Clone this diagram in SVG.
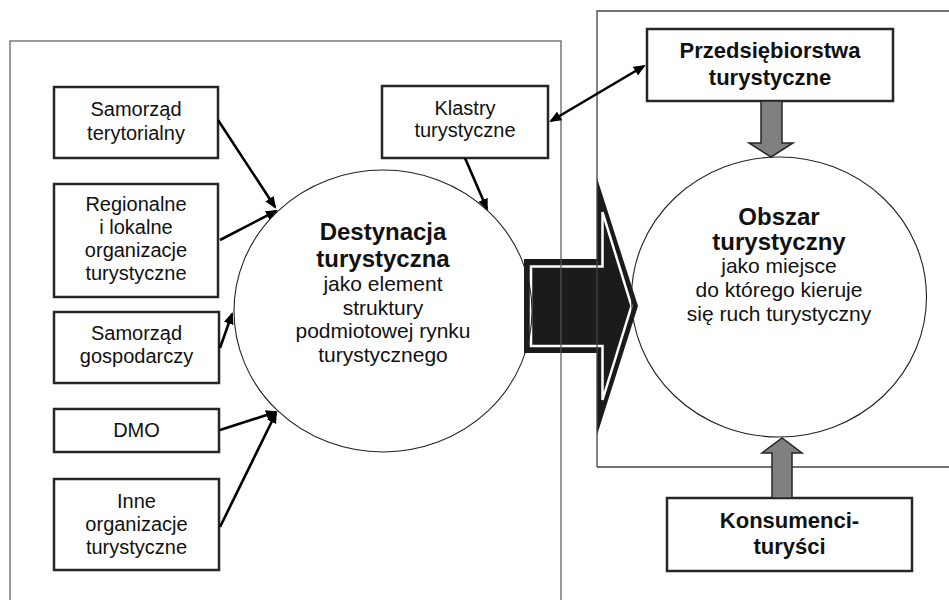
<svg xmlns="http://www.w3.org/2000/svg" width="949" height="600" viewBox="0 0 949 600">
  <style>
    .box { fill: #ffffff; stroke: #262626; stroke-width: 2.5; }
    .panel { fill: none; stroke: #555555; stroke-width: 1.2; }
    .oval { fill: none; stroke: #222222; stroke-width: 1.1; }
    .lbl { font-family: "Liberation Sans", Arial, sans-serif; font-size: 20px; fill: #111111; text-anchor: middle; }
    .big { font-family: "Liberation Sans", Arial, sans-serif; font-size: 22px; font-weight: bold; fill: #111111; text-anchor: middle; }
    .ttl { font-family: "Liberation Sans", Arial, sans-serif; font-size: 24px; font-weight: bold; fill: #111111; text-anchor: middle; }
    .sub { font-family: "Liberation Sans", Arial, sans-serif; font-size: 21px; fill: #111111; text-anchor: middle; }
    .link { stroke: #000000; stroke-width: 2.6; fill: none; marker-end: url(#head); }
    .gray { fill: #808080; stroke: #262626; stroke-width: 1.5; stroke-linejoin: miter; }
  </style>
  <defs>
    <marker id="head" viewBox="0 0 12 10" refX="10" refY="5" markerWidth="12" markerHeight="10" markerUnits="userSpaceOnUse" orient="auto-start-reverse">
      <path d="M0,0 L12,5 L0,10 z" fill="#000000"/>
    </marker>
  </defs>

  <rect width="949" height="600" fill="#ffffff"/>

  <!-- broad transfer arrow between the two areas -->
  <g id="transfer-arrow">
    <polygon points="524,259 597,259 597,178 638,306 597,435 597,353 524,353" fill="#1c1a1b"/>
    <polygon points="531,266.5 602.5,266.5 602.5,212 631.5,306 602.5,400 602.5,346 531,346" fill="none" stroke="#ffffff" stroke-width="2.5"/>
  </g>

  <!-- frames of the two areas -->
  <g id="frames">
    <rect class="panel" x="10" y="41" width="551" height="580"/>
    <path d="M597,467 L597,11 L952,11 M597,467 L952,467" fill="none" stroke="#444444" stroke-width="1.3"/>
  </g>

  <g id="destynacja">
    <ellipse class="oval" cx="383" cy="311" rx="149" ry="141"/>
    <text class="ttl" x="383" y="240">Destynacja</text>
    <text class="ttl" x="383" y="267">turystyczna</text>
    <text class="sub" x="383" y="291">jako element</text>
    <text class="sub" x="383" y="315">struktury</text>
    <text class="sub" x="383" y="338">podmiotowej rynku</text>
    <text class="sub" x="383" y="362">turystycznego</text>
  </g>

  <g id="obszar">
    <ellipse class="oval" cx="779" cy="297" rx="147.5" ry="140"/>
    <text class="ttl" x="779" y="225">Obszar</text>
    <text class="ttl" x="779" y="250">turystyczny</text>
    <text class="sub" x="779" y="273">jako miejsce</text>
    <text class="sub" x="779" y="297">do którego kieruje</text>
    <text class="sub" x="779" y="321">się ruch turystyczny</text>
  </g>

  <g id="samorzad-terytorialny">
    <rect class="box" x="54" y="87" width="164" height="71"/>
    <text class="lbl" x="136" y="116">Samorząd</text>
    <text class="lbl" x="136" y="140">terytorialny</text>
  </g>

  <g id="regionalne">
    <rect class="box" x="54" y="184" width="164" height="113"/>
    <text class="lbl" x="136" y="211">Regionalne</text>
    <text class="lbl" x="136" y="234">i lokalne</text>
    <text class="lbl" x="136" y="257">organizacje</text>
    <text class="lbl" x="136" y="280">turystyczne</text>
  </g>

  <g id="samorzad-gospodarczy">
    <rect class="box" x="54" y="312" width="165" height="71"/>
    <text class="lbl" x="136.5" y="340">Samorząd</text>
    <text class="lbl" x="136.5" y="363">gospodarczy</text>
  </g>

  <g id="dmo">
    <rect class="box" x="54" y="409" width="165" height="43"/>
    <text class="lbl" x="136.5" y="437">DMO</text>
  </g>

  <g id="inne">
    <rect class="box" x="54" y="479" width="165" height="91"/>
    <text class="lbl" x="136.5" y="508">Inne</text>
    <text class="lbl" x="136.5" y="531">organizacje</text>
    <text class="lbl" x="136.5" y="554">turystyczne</text>
  </g>

  <g id="klastry">
    <rect class="box" x="382" y="86" width="166" height="72"/>
    <text class="lbl" x="465" y="115">Klastry</text>
    <text class="lbl" x="465" y="137">turystyczne</text>
  </g>

  <g id="przedsiebiorstwa">
    <rect class="box" x="647" y="29" width="246" height="72"/>
    <text class="big" x="770" y="58">Przedsiębiorstwa</text>
    <text class="big" x="770" y="85">turystyczne</text>
  </g>

  <g id="konsumenci">
    <rect class="box" x="667" y="498" width="245" height="73"/>
    <text class="big" x="789.5" y="528">Konsumenci-</text>
    <text class="big" x="789.5" y="554">turyści</text>
  </g>

  <g id="connectors">
    <line class="link" x1="218" y1="120" x2="275" y2="207"/>
    <line class="link" x1="220" y1="240" x2="276" y2="211"/>
    <line class="link" x1="220" y1="348" x2="232" y2="314"/>
    <line class="link" x1="220" y1="430" x2="276" y2="412"/>
    <line class="link" x1="220" y1="527" x2="276" y2="413"/>
    <line class="link" x1="465" y1="158" x2="487" y2="209"/>
    <line class="link" x1="551" y1="121" x2="644" y2="66" marker-start="url(#head)"/>
    <polygon class="gray" points="761,101 782,101 782,143 793,143 771,157 749,143 761,143"/>
    <polygon class="gray" points="772,498 792,498 792,453 802,453 782,438 762,453 772,453"/>
  </g>
</svg>
